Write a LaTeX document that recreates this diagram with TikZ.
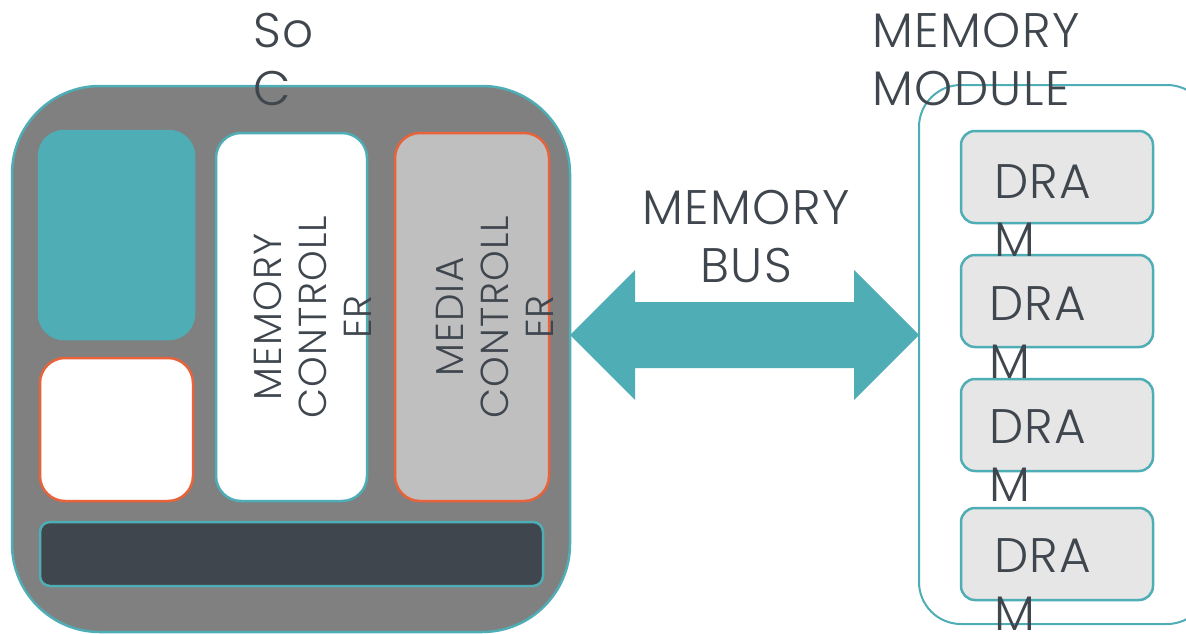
\documentclass[tikz,border=0pt]{standalone}
\usepackage{fontspec}
\setmainfont{Poppins}[UprightFont=* Light, LetterSpace=3]
\usetikzlibrary{calc}
\definecolor{busteal}{HTML}{4FADB5}
\definecolor{socgray}{HTML}{808080}
\definecolor{lightgray2}{HTML}{BFBFBF}
\definecolor{dramfill}{HTML}{E6E6E6}
\definecolor{accent}{HTML}{E8623A}
\definecolor{ink}{HTML}{3F464E}
\begin{document}
\begin{tikzpicture}[x=1pt,y=-1pt,
  blk/.style={rectangle, line width=2.5pt, inner sep=0pt, outer sep=0pt},
  bigtxt/.style={text=ink, inner sep=0pt, align=left, font=\fontsize{48.5}{58}\selectfont},
  rottxt/.style={text=ink, inner sep=0pt, align=center, rotate=90, font=\fontsize{39}{45}\selectfont},
]
\clip (0,0) rectangle (1186,634);
\useasboundingbox (0,0) rectangle (1186,634);
\fill[white] (0,0) rectangle (1186,634);

% system on chip
\node[blk, draw=busteal, fill=socgray, rounded corners=88pt,
      minimum width=558pt, minimum height=546pt] (soc) at (291,359) {};
\node[blk, draw=busteal, fill=busteal, rounded corners=25pt,
      minimum width=155pt, minimum height=208pt] (core) at (116.5,235) {};
\node[blk, draw=accent, fill=white, rounded corners=25pt,
      minimum width=153pt, minimum height=143pt] (cache) at (116.5,429.5) {};
\node[blk, draw=busteal, fill=white, rounded corners=25pt,
      minimum width=151pt, minimum height=368pt] (memctl) at (291.5,317) {};
\node[blk, draw=accent, fill=lightgray2, rounded corners=25pt,
      minimum width=154pt, minimum height=368pt] (medctl) at (472,317) {};
\node[blk, draw=busteal, fill=ink, rounded corners=10pt,
      minimum width=503pt, minimum height=64pt] (fabric) at (291.5,554) {};

\node[rottxt] (memctltxt) at (312.5,317) {MEMORY\\CONTROLL\\ER};
\node[rottxt] (medctltxt) at (494.5,317) {MEDIA\\CONTROLL\\ER};
\node[bigtxt, anchor=north west] (soctxt) at (253,13) {So\\C};

% memory module
\node[blk, draw=busteal, line width=2pt, fill=white, rounded corners=42pt,
      minimum width=290pt, minimum height=539pt] (module) at (1064,354.5) {};
\foreach \i/\yc in {1/177, 2/301, 3/425, 4/554}{
  \node[blk, draw=busteal, fill=dramfill, rounded corners=14pt,
        minimum width=192pt, minimum height=92pt] (dram\i) at (1057,\yc) {};
}
\node[bigtxt, anchor=north west] (d1) at (994,164) {DRA\\M};
\node[bigtxt, anchor=north west] (d2) at (989,286) {DRA\\M};
\node[bigtxt, anchor=north west] (d3) at (989,409) {DRA\\M};
\node[bigtxt, anchor=north west] (d4) at (994,538) {DRA\\M};
\node[bigtxt, anchor=north west] (modtxt) at (872,13) {MEMORY\\MODULE};

% memory bus
\coordinate (busy) at (0,335);
\coordinate (busL) at (soc.east |- busy);
\coordinate (busR) at (module.west |- busy);
\fill[busteal] (busL) -- ($(busL)+(65,-65)$) -- ($(busL)+(65,-33)$)
  -- ($(busR)+(-65,-33)$) -- ($(busR)+(-65,-65)$) -- (busR)
  -- ($(busR)+(-65,65)$) -- ($(busR)+(-65,33)$)
  -- ($(busL)+(65,33)$) -- ($(busL)+(65,65)$) -- cycle;
\node[bigtxt, align=center] (bustxt) at (746,236.5) {MEMORY\\BUS};
\end{tikzpicture}
\end{document}
